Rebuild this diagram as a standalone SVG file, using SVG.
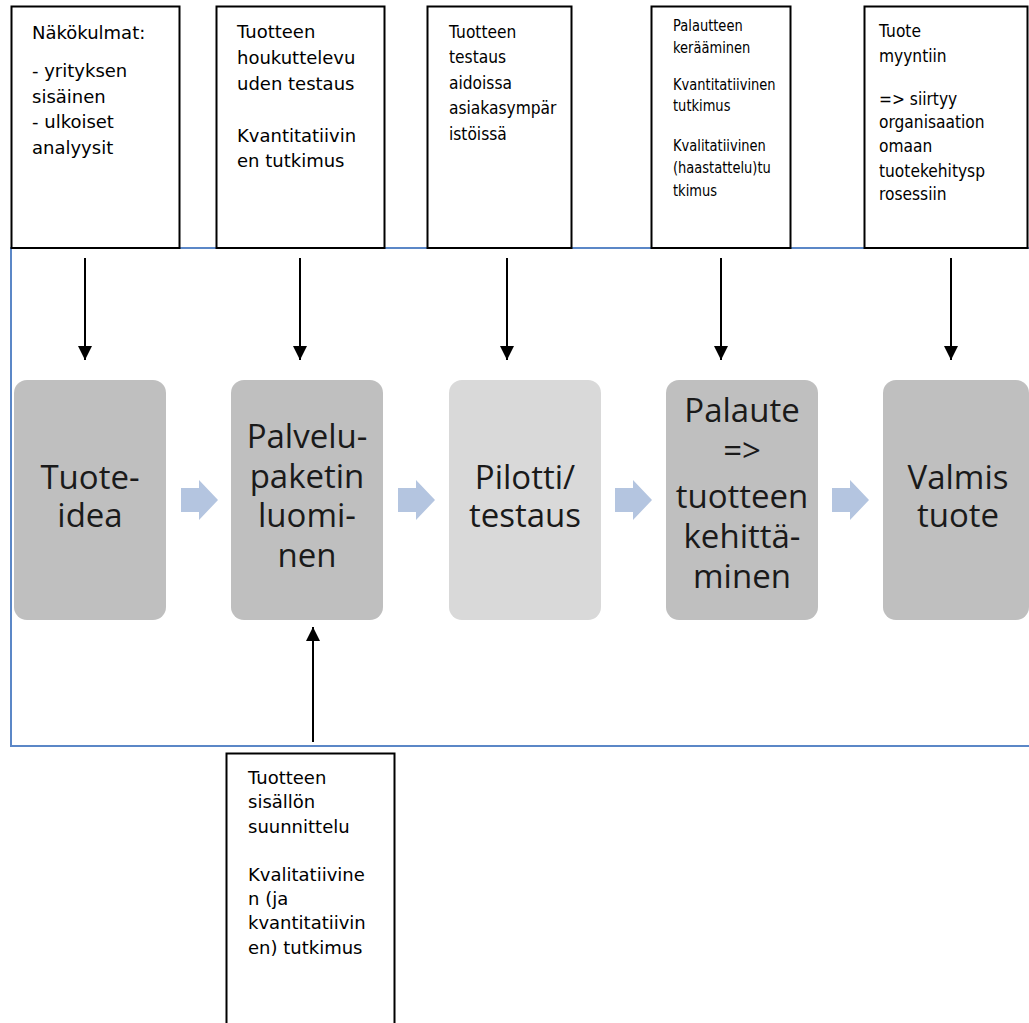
<svg xmlns="http://www.w3.org/2000/svg" width="1029" height="1023" viewBox="0 0 1029 1023">
  <style>
    .note { fill: #ffffff; stroke: #000000; stroke-width: 2; }
    .note-text { font-family: "DejaVu Sans", "Liberation Sans", sans-serif; font-size: 18px; fill: #000000; }
    .note-small { font-family: "DejaVu Sans", "Liberation Sans", sans-serif; font-size: 15px; fill: #000000; }
    .step { fill: #bfbfbf; }
    .step-light { fill: #d9d9d9; }
    .step-text { font-family: "Open Sans", "Liberation Sans", sans-serif; font-size: 33px; fill: #1a1a1a; text-anchor: middle; }
    .frame { fill: none; stroke: #5b87c7; stroke-width: 2; }
    .conn { stroke: #000000; stroke-width: 2; fill: none; }
    .flow { fill: #b4c5e0; }
  </style>
  <defs>
    <marker id="head" viewBox="0 0 10 10" refX="10" refY="5" markerWidth="7" markerHeight="7" markerUnits="strokeWidth" orient="auto">
      <path d="M0,0 L10,5 L0,10 Z" fill="#000000"/>
    </marker>
  </defs>

  <rect width="1029" height="1023" fill="#ffffff"/>

  <!-- blue frame around the process row -->
  <path class="frame" d="M1029,248 H11 V746 H1029"/>

  <!-- process steps -->
  <g id="step-tuoteidea">
    <rect class="step" x="14" y="380" width="152" height="240" rx="13"/>
    <text class="step-text" x="90" y="489">Tuote-</text>
    <text class="step-text" x="90" y="527">idea</text>
  </g>
  <g id="step-palvelupaketti">
    <rect class="step" x="231" y="380" width="152" height="240" rx="13"/>
    <text class="step-text" x="307" y="448">Palvelu-</text>
    <text class="step-text" x="307" y="488">paketin</text>
    <text class="step-text" x="307" y="527">luomi-</text>
    <text class="step-text" x="307" y="567">nen</text>
  </g>
  <g id="step-pilotti">
    <rect class="step-light" x="449" y="380" width="152" height="240" rx="13"/>
    <text class="step-text" x="525" y="489">Pilotti/</text>
    <text class="step-text" x="525" y="527">testaus</text>
  </g>
  <g id="step-palaute">
    <rect class="step" x="666" y="380" width="152" height="240" rx="13"/>
    <text class="step-text" x="742" y="422">Palaute</text>
    <text class="step-text" x="742" y="462">=&gt;</text>
    <text class="step-text" x="742" y="508">tuotteen</text>
    <text class="step-text" x="742" y="548">kehittä-</text>
    <text class="step-text" x="742" y="588">minen</text>
  </g>
  <g id="step-valmis">
    <rect class="step" x="883" y="380" width="146" height="240" rx="13"/>
    <text class="step-text" x="958" y="489">Valmis</text>
    <text class="step-text" x="958" y="527">tuote</text>
  </g>

  <!-- notes above the steps -->
  <g id="note-nakokulmat">
    <rect class="note" x="11.5" y="6.5" width="168" height="241.5"/>
    <text class="note-text" x="32" y="39">Näkökulmat:</text>
    <text class="note-text" x="32" y="77">- yrityksen</text>
    <text class="note-text" x="32" y="103">sisäinen</text>
    <text class="note-text" x="32" y="128">- ulkoiset</text>
    <text class="note-text" x="32" y="154">analyysit</text>
  </g>
  <g id="note-houkuttelevuus">
    <rect class="note" x="216.5" y="6.5" width="168" height="241.5"/>
    <text class="note-text" x="237" y="38">Tuotteen</text>
    <text class="note-text" x="237" y="64">houkuttelevu</text>
    <text class="note-text" x="237" y="90">uden testaus</text>
    <text class="note-text" x="237" y="142">Kvantitatiivin</text>
    <text class="note-text" x="237" y="167">en tutkimus</text>
  </g>
  <g id="note-testaus">
    <rect class="note" x="427.5" y="6.5" width="144" height="241.5"/>
    <g transform="translate(449,0) scale(0.86,1)">
      <text class="note-text" x="0" y="38">Tuotteen</text>
      <text class="note-text" x="0" y="63">testaus</text>
      <text class="note-text" x="0" y="89">aidoissa</text>
      <text class="note-text" x="0" y="114">asiakasympär</text>
      <text class="note-text" x="0" y="140">istöissä</text>
    </g>
  </g>
  <g id="note-palaute">
    <rect class="note" x="651.5" y="6.5" width="139" height="241.5"/>
    <g transform="translate(673,0) scale(0.87,1)">
      <text class="note-small" x="0" y="31">Palautteen</text>
      <text class="note-small" x="0" y="53">kerääminen</text>
      <text class="note-small" x="0" y="90">Kvantitatiivinen</text>
      <text class="note-small" x="0" y="111">tutkimus</text>
      <text class="note-small" x="0" y="151">Kvalitatiivinen</text>
      <text class="note-small" x="0" y="173">(haastattelu)tu</text>
      <text class="note-small" x="0" y="196">tkimus</text>
    </g>
  </g>
  <g id="note-myyntiin">
    <rect class="note" x="864.5" y="6.5" width="163" height="241.5"/>
    <g transform="translate(879,0) scale(0.86,1)">
      <text class="note-text" x="0" y="37">Tuote</text>
      <text class="note-text" x="0" y="62">myyntiin</text>
      <text class="note-text" x="0" y="105">=&gt; siirtyy</text>
      <text class="note-text" x="0" y="128">organisaation</text>
      <text class="note-text" x="0" y="152">omaan</text>
      <text class="note-text" x="0" y="177">tuotekehitysp</text>
      <text class="note-text" x="0" y="200">rosessiin</text>
    </g>
  </g>

  <!-- note below the second step -->
  <g id="note-sisalto">
    <rect class="note" x="226.5" y="753.5" width="168" height="280"/>
    <text class="note-text" x="248" y="784">Tuotteen</text>
    <text class="note-text" x="248" y="808">sisällön</text>
    <text class="note-text" x="248" y="833">suunnittelu</text>
    <text class="note-text" x="248" y="881">Kvalitatiivine</text>
    <text class="note-text" x="248" y="905">n (ja</text>
    <text class="note-text" x="248" y="929">kvantitatiivin</text>
    <text class="note-text" x="248" y="954">en) tutkimus</text>
  </g>

  <!-- connectors -->
  <g id="connectors">
    <line class="conn" x1="85" y1="258" x2="85" y2="360" marker-end="url(#head)"/>
    <line class="conn" x1="300" y1="258" x2="300" y2="360" marker-end="url(#head)"/>
    <line class="conn" x1="507" y1="258" x2="507" y2="360" marker-end="url(#head)"/>
    <line class="conn" x1="721" y1="258" x2="721" y2="360" marker-end="url(#head)"/>
    <line class="conn" x1="951" y1="258" x2="951" y2="360" marker-end="url(#head)"/>
    <line class="conn" x1="313" y1="742" x2="313" y2="627" marker-end="url(#head)"/>
    <polygon class="flow" points="181,488 199,488 199,480 218,500 199,520 199,512 181,512"/>
    <polygon class="flow" points="398,488 416,488 416,480 435,500 416,520 416,512 398,512"/>
    <polygon class="flow" points="615,488 633,488 633,480 652,500 633,520 633,512 615,512"/>
    <polygon class="flow" points="832,488 850,488 850,480 869,500 850,520 850,512 832,512"/>
  </g>
</svg>
